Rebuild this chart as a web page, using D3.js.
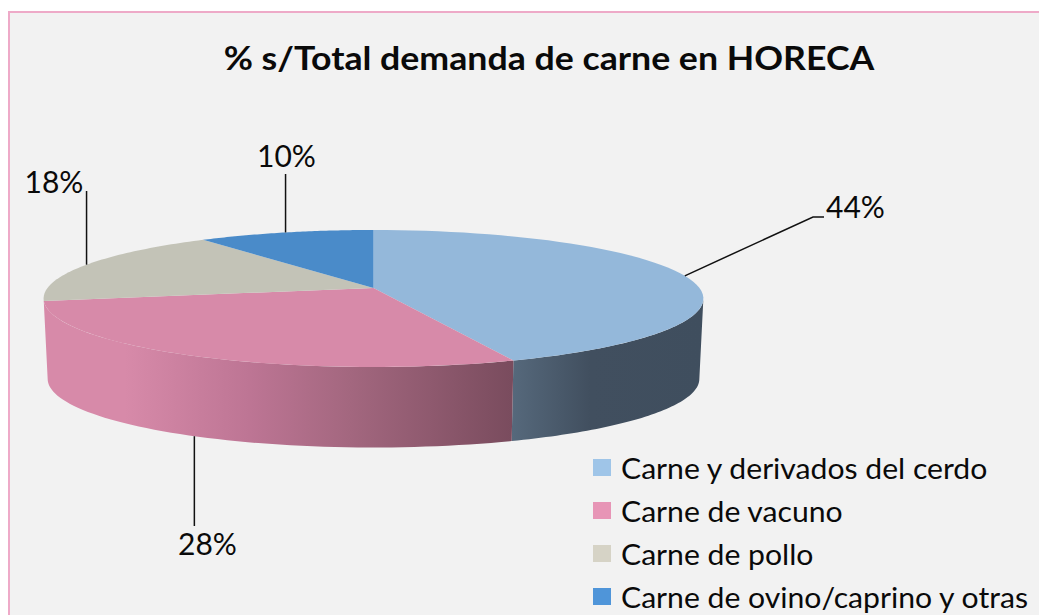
<!DOCTYPE html>
<html><head><meta charset="utf-8">
<script src="https://cdnjs.cloudflare.com/ajax/libs/d3/7.8.5/d3.min.js"></script>
<style>html,body{margin:0;padding:0;background:#fff}svg{display:block}text{font-family:Lato,"Noto Sans",sans-serif;fill:#0a0a0a}</style>
</head><body><svg id="c" width="1039" height="615"></svg>
<script>
const titleText = "% s/Total demanda de carne en HORECA";
const categories = ["Carne y derivados del cerdo","Carne de vacuno","Carne de pollo","Carne de ovino/caprino y otras"];
const values = [44,28,18,10];
const topColors = ["#94b8da","#d78aa9","#c3c3b7","#4a8bc9"];
const legendColors = ["#9fc5e8","#e795b6","#d6d3c6","#4f95d9"];

const svg = d3.select("#c");
svg.append("rect").attr("x",9).attr("y",12).attr("width",1060).attr("height",640)
  .attr("fill","#f2f2f2").attr("stroke","#eeaac8").attr("stroke-width",2);

const defs = svg.append("defs");
function grad(id, stops){
  const g = defs.append("linearGradient").attr("id",id).attr("gradientUnits","userSpaceOnUse")
    .attr("x1",44).attr("x2",703).attr("y1",0).attr("y2",0);
  stops.forEach(s=>g.append("stop").attr("offset",(s[0]-44)/659).attr("stop-color",s[1]));
}
grad("beef",[[44,"#d78aa9"],[125,"#d78aa9"],[250,"#bd7594"],[350,"#a3677f"],[511,"#7a4c5e"]]);
grad("pork",[[511,"#56697c"],[590,"#414f5f"],[703,"#3f4e5e"]]);

// perspective projection of the pie disc
const K=0.153;
const topPlane={A:326,B:66.9,C:288,cx:373.5};
const lowPlane={A:322,B:67,C:368.4,cx:373.5};
function proj(p,a){
  const u=Math.sin(a), v=-Math.cos(a), w=1-K*v;
  return [p.cx+p.A*u/w, p.C+p.B*v/w];
}
const arcs = d3.pie().sort(null).value(d=>d)(values);
const lineGen = d3.line();
function samples(a0,a1){
  return d3.range(0,61).map(i=>a0+(a1-a0)*i/60);
}
const rightA=Math.acos(-K), leftA=2*Math.PI-Math.acos(-K);

// sides
[[0,"url(#pork)"],[1,"url(#beef)"]].forEach(([i,fill])=>{
  const a0=Math.max(arcs[i].startAngle,rightA), a1=Math.min(arcs[i].endAngle,leftA);
  const s=(i===1)?samples(a0,leftA):samples(a0,a1);
  const pts=s.map(a=>proj(topPlane,a)).concat(s.slice().reverse().map(a=>proj(lowPlane,a)));
  svg.append("path").attr("d",lineGen(pts)+"Z").attr("fill",fill);
});
// tops
arcs.forEach((d,i)=>{
  const pts=[[topPlane.cx,topPlane.C]].concat(samples(d.startAngle,d.endAngle).map(a=>proj(topPlane,a)));
  svg.append("path").attr("d",lineGen(pts)+"Z").attr("fill",topColors[i]);
});

// leaders
const leaderEnds=[[[813,217],[824,217]],[[0,526]],[[0,191]],[[0,174]]];
const labelPos=[[826,218,"start"],[207.5,555,"middle"],[54,193,"middle"],[286.5,167,"middle"]];
arcs.forEach((d,i)=>{
  const m=(d.startAngle+d.endAngle)/2;
  const front=Math.cos(m)<-0.3;
  const p=proj(front?lowPlane:topPlane,m);
  const pts=[p].concat(leaderEnds[i].map(e=>[e[0]||p[0],e[1]]));
  svg.append("path").attr("d",lineGen(pts)).attr("fill","none").attr("stroke","#111").attr("stroke-width",1.5);
  svg.append("text").attr("x",labelPos[i][0]).attr("y",labelPos[i][1]).attr("text-anchor",labelPos[i][2])
    .attr("font-size",30).text(values[i]+"%");
});

// stretch text horizontally, as the reference image is
function stretch(sel,f){
  const n=sel.node();
  sel.attr("textLength",n.getComputedTextLength()*f).attr("lengthAdjust","spacingAndGlyphs");
}
// title
stretch(svg.append("text").attr("x",549).attr("y",70).attr("text-anchor","middle").attr("font-size",33)
  .attr("font-weight",700).text(titleText),1.081);

// legend
const ly=d3.scalePoint().domain(categories).range([468,597]);
categories.forEach((c,i)=>{
  svg.append("rect").attr("x",593).attr("y",ly(c)-9).attr("width",18).attr("height",17).attr("fill",legendColors[i]);
  stretch(svg.append("text").attr("x",621).attr("y",ly(c)+11).attr("font-size",29.5).text(c),1.022);
});
</script></body></html>
